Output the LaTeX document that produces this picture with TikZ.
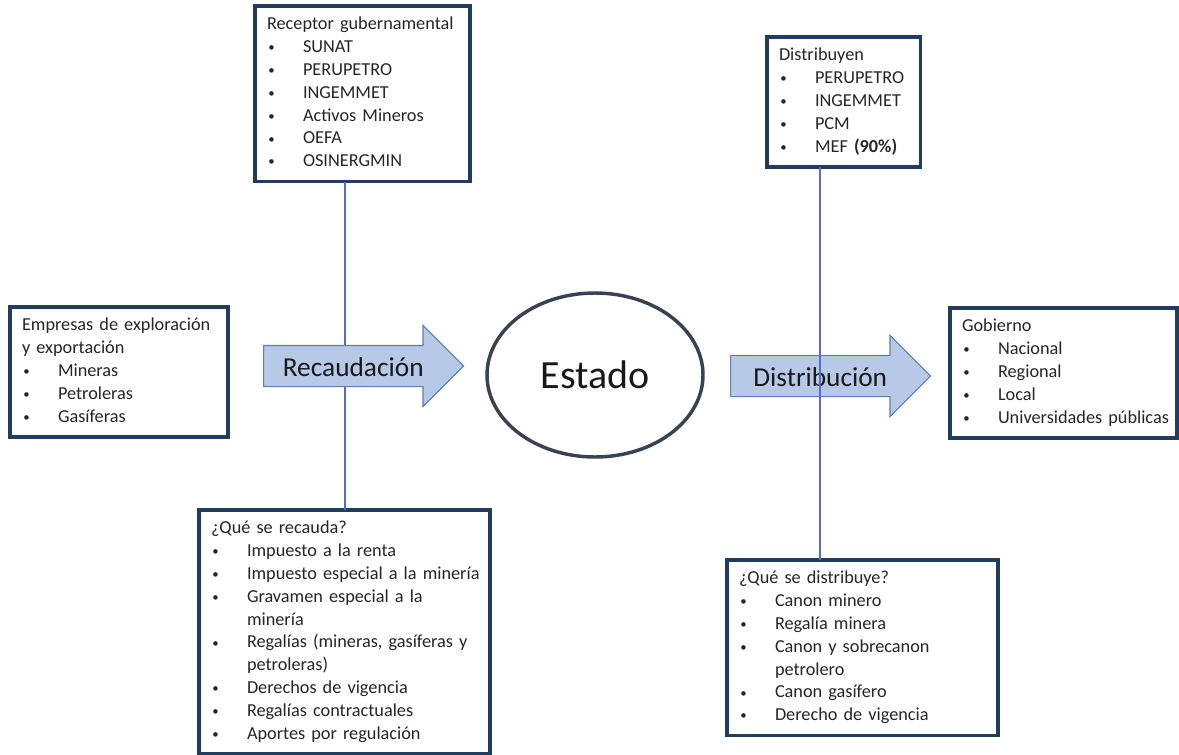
\documentclass[tikz,border=0pt]{standalone}
\usepackage{fontspec}
\usepackage{graphicx}
\setmainfont{Carlito}
\usetikzlibrary{shapes.geometric,shapes.arrows}
\definecolor{boxline}{RGB}{34,60,94}
\definecolor{linkblue}{RGB}{84,110,196}
\definecolor{arrowfill}{RGB}{182,201,231}
\definecolor{arrowline}{RGB}{96,126,176}
\definecolor{ovalline}{RGB}{58,66,82}
\tikzset{listbox/.style={draw=boxline, line width=2.7pt, fill=white, anchor=north west, align=left, inner xsep=9pt, inner ysep=6pt, outer sep=0pt, font=\fontsize{13.7}{17.1}\selectfont, text=black!85}}
\tikzset{flow/.style={single arrow, draw=arrowline, fill=arrowfill, line width=0.8pt, single arrow head extend=15pt, minimum height=150pt, text height=15pt, text depth=0pt, inner ysep=7.5pt, inner xsep=4pt, font=\fontsize{20.5}{24}\selectfont, text=black!90, anchor=tail}}
\tikzset{link/.style={draw=linkblue, line width=1.5pt}}
\newcommand{\ttl}[1]{\mbox{\strut #1}}
\newcommand{\itm}[1]{\\\mbox{\strut\makebox[27pt][l]{\hspace{1pt}\raisebox{0.6pt}{\scalebox{0.7}{•}}}#1}}
\newcommand{\cnt}[1]{\\\mbox{\strut\hspace{27pt}#1}}

\begin{document}
\begin{tikzpicture}[x=0.75pt,y=-0.75pt]
		\useasboundingbox (0,0) rectangle (1179,754);
		
		\node[listbox, text width=143.25pt] (recep) at (255,6) {\ttl{Receptor gubernamental}\itm{SUNAT}\itm{PERUPETRO}\itm{INGEMMET}\itm{Activos Mineros}\itm{OEFA}\itm{OSINERGMIN}};
		\node[listbox, text width=97pt] (distrib) at (767,37) {\ttl{Distribuyen}\itm{PERUPETRO}\itm{INGEMMET}\itm{PCM}\itm{MEF \textbf{(90\%)}}};
		\node[listbox, text width=145.5pt] (empresas) at (10,307) {\ttl{Empresas de exploración}\\\ttl{y exportación}\itm{Mineras}\itm{Petroleras}\itm{Gasíferas}};
		\node[listbox, text width=152.25pt] (gobierno) at (950,308) {\ttl{Gobierno}\itm{Nacional}\itm{Regional}\itm{Local}\itm{Universidades públicas}};
		\node[listbox, text width=200.25pt] (recauda) at (199,510) {\ttl{¿Qué se recauda?}\itm{Impuesto a la renta}\itm{Impuesto especial a la minería}\itm{Gravamen especial a la}\cnt{minería}\itm{Regalías (mineras, gasíferas y}\cnt{petroleras)}\itm{Derechos de vigencia}\itm{Regalías contractuales}\itm{Aportes por regulación}};
		\node[listbox, text width=185.25pt] (reparte) at (727,560) {\ttl{¿Qué se distribuye?}\itm{Canon minero}\itm{Regalía minera}\itm{Canon y sobrecanon}\cnt{petrolero}\itm{Canon gasífero}\itm{Derecho de vigencia}};
		
		\node[draw=ovalline, line width=2.6pt, ellipse, inner sep=0pt, minimum width=162pt, minimum height=123pt, font=\fontsize{30}{36}\selectfont, text=black!90] (estado) at (595,375) {Estado};
		
		\draw[link] (recauda.north) -- (recauda.north |- recep.south);
		\node[flow] (flecharec) at (263,366) {Recaudación};
		\node[flow] (flechadis) at (730,376) {Distribución};
		\draw[link] (distrib.south -| flechadis.center) -- (reparte.north -| flechadis.center);
\end{tikzpicture}
\end{document}
